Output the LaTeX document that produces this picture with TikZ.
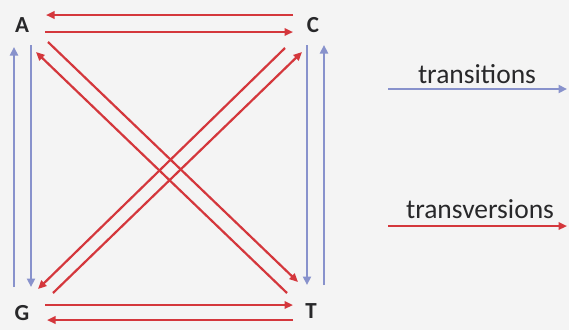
\documentclass[tikz,border=0pt]{standalone}
\usepackage{fontspec}
\setmainfont{Carlito}
\usetikzlibrary{arrows.meta}
\definecolor{tvred}{RGB}{212,55,60}
\definecolor{tsblue}{RGB}{136,146,204}
\definecolor{lettergray}{RGB}{40,40,42}
\definecolor{paper}{RGB}{244,244,244}
\tikzset{
  base/.style={font=\fontsize{23}{23}\selectfont\bfseries, text=lettergray, inner sep=0pt},
  legendtext/.style={font=\fontsize{27.5}{27.5}\selectfont, text=lettergray, inner sep=0pt},
  tvarrow/.style={draw=tvred, line width=2.2pt, -{Triangle[length=8.5pt,width=7.5pt]}},
  tsarrow/.style={draw=tsblue, line width=2.6pt, -{Triangle[length=8.5pt,width=8pt]}},
}
\begin{document}
\begin{tikzpicture}[x=1pt,y=-1pt]
\fill[paper] (0,0) rectangle (569,330);
\useasboundingbox (0,0) rectangle (569,330);
% bases
\node[base] (A) at (22,25) {A};
\node[base] (C) at (313,25) {C};
\node[base] (G) at (22,313) {G};
\node[base] (T) at (311,311) {T};
% endpoints
\coordinate (ct1) at (293,15);  \coordinate (at1) at (46,15);
\coordinate (at2) at (45,32);   \coordinate (ct2) at (293,32);
\coordinate (gb1) at (45,305);  \coordinate (tb1) at (293,305);
\coordinate (tb2) at (293,320); \coordinate (gb2) at (47,320);
\coordinate (gl1) at (14,287);  \coordinate (al1) at (14,47);
\coordinate (al2) at (31,45);   \coordinate (gl2) at (31,287);
\coordinate (cr1) at (307,45);  \coordinate (tr1) at (307,285);
\coordinate (tr2) at (324,285); \coordinate (cr2) at (324,45);
\coordinate (td1) at (287,293); \coordinate (ad1) at (36,52);
\coordinate (ad2) at (48,42);   \coordinate (td2) at (298,282);
\coordinate (gd1) at (53,293);  \coordinate (cd1) at (302,52);
\coordinate (cd2) at (285,48);  \coordinate (gd2) at (38,289);
% transversions (red)
\draw[tvarrow] (ct1) -- (at1);
\draw[tvarrow] (at2) -- (ct2);
\draw[tvarrow] (gb1) -- (tb1);
\draw[tvarrow] (tb2) -- (gb2);
\draw[tvarrow] (td1) -- (ad1);
\draw[tvarrow] (ad2) -- (td2);
\draw[tvarrow] (gd1) -- (cd1);
\draw[tvarrow] (cd2) -- (gd2);
% transitions (blue)
\draw[tsarrow] (gl1) -- (al1);
\draw[tsarrow] (al2) -- (gl2);
\draw[tsarrow] (cr1) -- (tr1);
\draw[tsarrow] (tr2) -- (cr2);
% legend
\node[legendtext] (lts) at (477,74) {transitions};
\node[legendtext] (ltv) at (480,209) {transversions};
\coordinate (ls1) at (388,89);  \coordinate (ls2) at (567,89);
\coordinate (lv1) at (388,226); \coordinate (lv2) at (567,226);
\draw[tsarrow] (ls1) -- (ls2);
\draw[tvarrow] (lv1) -- (lv2);
\end{tikzpicture}
\end{document}
